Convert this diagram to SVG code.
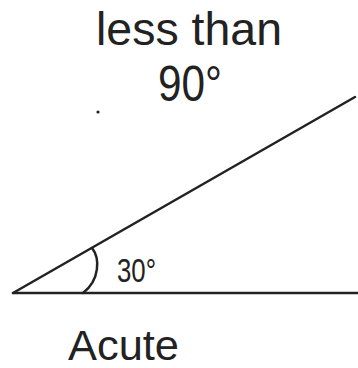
<svg xmlns="http://www.w3.org/2000/svg" width="358" height="368" viewBox="0 0 358 368">
<style>
.t{font-family:"Liberation Sans","DejaVu Sans",sans-serif;fill:#222;}
.ln{stroke:#222;stroke-width:2.5;fill:none;stroke-linecap:round;}
</style>
<rect width="358" height="368" fill="#fff"/>
<g id="connectors">
<line class="ln" x1="13" y1="293" x2="358" y2="293"/>
<line class="ln" x1="13" y1="293" x2="355" y2="97"/>
<path class="ln" d="M92,248 C100,258 100,280 83,293"/>
</g>
<g id="title">
<text class="t" x="96" y="45" font-size="46" textLength="186" lengthAdjust="spacingAndGlyphs">less than</text>
<text class="t" x="158" y="101" font-size="50" textLength="64" lengthAdjust="spacingAndGlyphs">90°</text>
</g>
<g id="angle-label">
<text class="t" x="117" y="282" font-size="34" textLength="39" lengthAdjust="spacingAndGlyphs">30°</text>
</g>
<g id="name">
<text class="t" x="68" y="360" font-size="42" textLength="111" lengthAdjust="spacingAndGlyphs">Acute</text>
</g>
<g id="dot">
<circle cx="98" cy="112" r="1.6" fill="#222"/>
</g>
</svg>
